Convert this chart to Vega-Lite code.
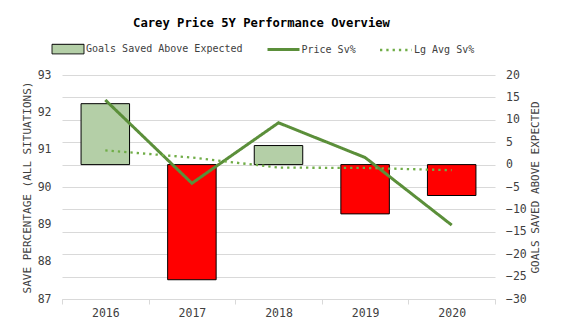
{
  "$schema": "https://vega.github.io/schema/vega-lite/v6.json",
  "width": 433,
  "height": 224,
  "autosize": {"type": "none"},
  "padding": {"left": 62, "top": 75, "right": 69, "bottom": 33},
  "background": "white",
  "config": {"view": {"stroke": null}, "font": "DejaVu Sans Mono"},
  "title": {
    "text": "Carey Price 5Y Performance Overview",
    "font": "DejaVu Sans Mono",
    "fontSize": 12.2,
    "fontWeight": "bold",
    "color": "#000000",
    "anchor": "middle",
    "frame": "group",
    "dx": -17,
    "offset": 15
  },
  "datasets": {
    "gsax": [
      {"year": 2016, "gsax": 13.6},
      {"year": 2017, "gsax": -25.7},
      {"year": 2018, "gsax": 4.25},
      {"year": 2019, "gsax": -11.0},
      {"year": 2020, "gsax": -6.9}
    ],
    "sv": [
      {"year": 2016, "series": "Price Sv%", "sv": 92.33},
      {"year": 2017, "series": "Price Sv%", "sv": 90.10},
      {"year": 2018, "series": "Price Sv%", "sv": 91.72},
      {"year": 2019, "series": "Price Sv%", "sv": 90.79},
      {"year": 2020, "series": "Price Sv%", "sv": 88.98},
      {"year": 2016, "series": "Lg Avg Sv%", "sv": 90.98},
      {"year": 2017, "series": "Lg Avg Sv%", "sv": 90.79},
      {"year": 2018, "series": "Lg Avg Sv%", "sv": 90.52},
      {"year": 2019, "series": "Lg Avg Sv%", "sv": 90.51},
      {"year": 2020, "series": "Lg Avg Sv%", "sv": 90.45}
    ]
  },
  "layer": [
    {
      "data": {"name": "gsax"},
      "mark": {"type": "bar", "width": {"band": 0.56}, "stroke": "#000000", "strokeWidth": 1},
      "encoding": {
        "x": {
          "field": "year", "type": "ordinal",
          "scale": {"paddingInner": 0, "paddingOuter": 0},
          "axis": {"title": null, "labelAngle": 0, "labelFont": "DejaVu Sans Mono", "labelFontSize": 11.5, "labelColor": "#404040", "labelPadding": 3, "tickBand": "extent", "tickSize": 5, "tickColor": "#D9D9D9", "domainColor": "#D9D9D9", "grid": false}
        },
        "y": {
          "field": "gsax", "type": "quantitative",
          "scale": {"domain": [-30, 20], "nice": false},
          "axis": {"orient": "right", "title": "GOALS SAVED ABOVE EXPECTED", "titleAngle": 270, "titleFont": "DejaVu Sans Mono", "titleFontSize": 11, "titleFontWeight": "normal", "titleColor": "#404040", "titlePadding": 14.5, "values": [-30, -25, -20, -15, -10, -5, 0, 5, 10, 15, 20], "labelFont": "DejaVu Sans Mono", "labelFontSize": 11.5, "labelColor": "#404040", "labelPadding": 10.5, "ticks": false, "domain": false, "grid": true, "gridColor": "#D9D9D9"}
        },
        "fill": {"condition": {"test": "datum.gsax < 0", "value": "#FF0000"}, "value": "#B4CFA7"}
      }
    },
    {
      "data": {"name": "sv"},
      "mark": {"type": "line"},
      "encoding": {
        "x": {
          "field": "year", "type": "ordinal",
          "scale": {"paddingInner": 0, "paddingOuter": 0},
          "axis": {"title": null, "labelAngle": 0, "labelFont": "DejaVu Sans Mono", "labelFontSize": 11.5, "labelColor": "#404040", "labelPadding": 3, "tickBand": "extent", "tickSize": 5, "tickColor": "#D9D9D9", "domainColor": "#D9D9D9", "grid": false}
        },
        "y": {
          "field": "sv", "type": "quantitative",
          "scale": {"domain": [87, 93], "nice": false},
          "axis": {"orient": "left", "title": "SAVE PERCENTAGE (ALL SITUATIONS)", "titleFont": "DejaVu Sans Mono", "titleFontSize": 11, "titleFontWeight": "normal", "titleColor": "#404040", "titlePadding": 5, "values": [87, 88, 89, 90, 91, 92, 93], "labelFont": "DejaVu Sans Mono", "labelFontSize": 11.5, "labelColor": "#404040", "labelPadding": 11, "ticks": false, "domain": false, "grid": false}
        },
        "stroke": {
          "field": "series", "type": "nominal",
          "scale": {"domain": ["Goals Saved Above Expected", "Price Sv%", "Lg Avg Sv%"], "range": ["#000000", "#5B8F3A", "#70AD47"]},
          "legend": {
            "orient": "none", "legendX": 1, "legendY": -31, "direction": "horizontal",
            "title": null, "symbolSize": 1024, "labelFont": "DejaVu Sans Mono", "labelFontSize": 10,
            "labelColor": "#404040", "labelOffset": 13, "columnPadding": 18.5, "padding": 0,
            "encode": {
              "symbols": {
                "update": {
                  "shape": {"signal": "datum.value === 'Goals Saved Above Expected' ? 'M-1,-0.3H1V0.3H-1Z' : 'stroke'"},
                  "fill": {"signal": "datum.value === 'Goals Saved Above Expected' ? '#B4CFA7' : 'transparent'"},
                  "strokeWidth": {"signal": "datum.value === 'Goals Saved Above Expected' ? 1 : (datum.value === 'Price Sv%' ? 3 : 2.3)"},
                  "strokeDash": {"signal": "datum.value === 'Lg Avg Sv%' ? [2.3, 4] : [1, 0]"}
                }
              }
            }
          }
        },
        "strokeDash": {
          "field": "series", "type": "nominal",
          "scale": {"domain": ["Price Sv%", "Lg Avg Sv%"], "range": [[1, 0], [2.3, 4]]},
          "legend": null
        },
        "strokeWidth": {
          "field": "series", "type": "nominal",
          "scale": {"domain": ["Price Sv%", "Lg Avg Sv%"], "range": [3, 2.3]},
          "legend": null
        }
      }
    }
  ],
  "resolve": {"scale": {"y": "independent"}}
}
